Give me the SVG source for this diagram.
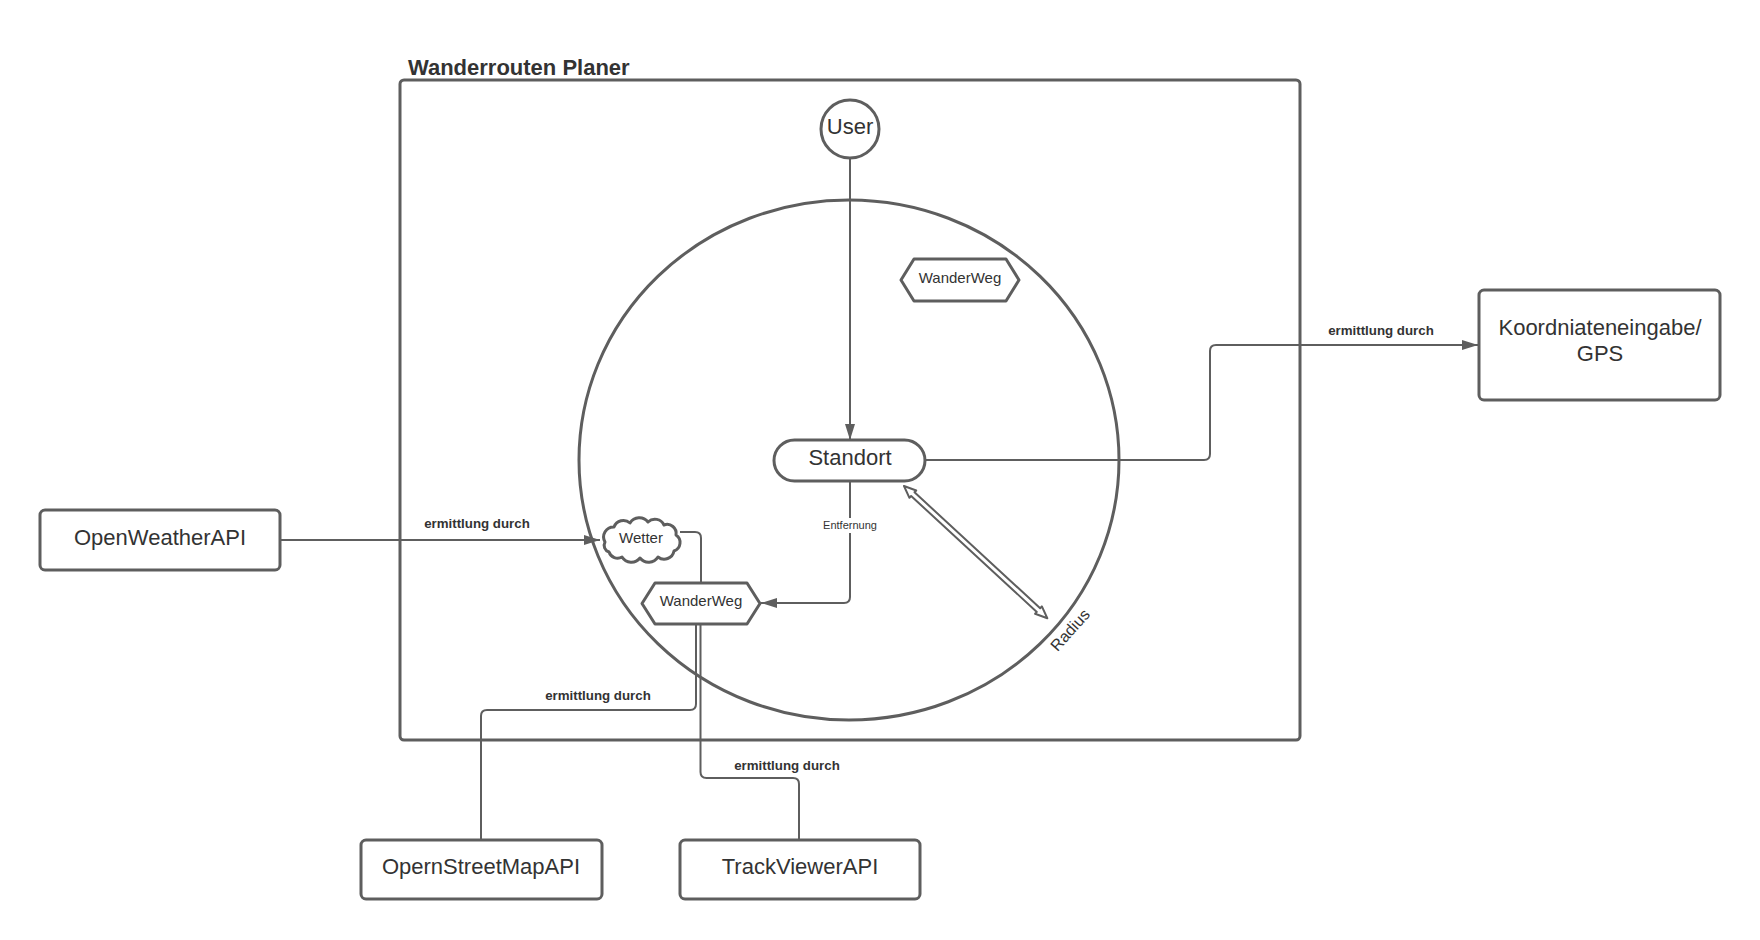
<svg xmlns="http://www.w3.org/2000/svg" width="1760" height="940" viewBox="0 0 1760 940">
  <style>
    .shape { fill: #ffffff; stroke: #5e5e5e; stroke-width: 3; stroke-linejoin: round; }
    .conn { fill: none; stroke: #5e5e5e; stroke-width: 2; }
    .txt { font-family: "Liberation Sans", Arial, sans-serif; fill: #333333; text-anchor: middle; dominant-baseline: central; }
    .big { font-size: 22px; }
    .mid { font-size: 15px; }
    .lbl { font-size: 13.3px; font-weight: bold; }
    .small { font-size: 11px; }
  </style>
  <defs>
    <marker id="arrow" markerUnits="userSpaceOnUse" markerWidth="16" markerHeight="10" refX="16" refY="5" orient="auto">
      <path d="M0,0 L16,5 L0,10 Z" fill="#5e5e5e"/>
    </marker>
  </defs>

  <rect width="1760" height="940" fill="#ffffff"/>

  <!-- System boundary -->
  <g id="container">
    <rect class="shape" x="400" y="80" width="900" height="660" rx="4" style="fill:none"/>
    <text class="txt" x="408" y="75" style="font-size:22px;font-weight:bold;text-anchor:start;dominant-baseline:auto">Wanderrouten Planer</text>
  </g>

  <!-- Search radius area -->
  <g id="area">
    <ellipse class="shape" cx="849" cy="460" rx="270" ry="260" style="fill:none"/>
  </g>

  <!-- Connectors -->
  <g id="connectors">
    <path class="conn" d="M850,158 V440" marker-end="url(#arrow)"/>
    <path class="conn" d="M850,481 V597 Q850,603 844,603 H761" marker-end="url(#arrow)"/>
    <path class="conn" d="M925,460 H1204 Q1210,460 1210,454 V351 Q1210,345 1216,345 H1478" marker-end="url(#arrow)"/>
    <path class="conn" d="M280,540 H600" marker-end="url(#arrow)"/>
    <path class="conn" d="M680,532 H695 Q701,532 701,538 V583"/>
    <path class="conn" d="M696,624 V704 Q696,710 690,710 H487 Q481,710 481,716 V840"/>
    <path class="conn" d="M700.5,624 V772 Q700.5,778 706.5,778 H793 Q799,778 799,784 V840"/>

    <rect x="815" y="518" width="70" height="15" fill="#ffffff"/>
    <text class="txt small" x="850" y="525">Entfernung</text>
    <text class="txt lbl" x="477" y="523">ermittlung durch</text>
    <text class="txt lbl" x="1381" y="330">ermittlung durch</text>
    <text class="txt lbl" x="598" y="695">ermittlung durch</text>
    <text class="txt lbl" x="787" y="765">ermittlung durch</text>

    <!-- Radius double arrow -->
    <g transform="translate(904,486) rotate(42.7)">
      <path d="M0,0 L12,-5 L12,-2.5 L183,-2.5 L183,-5 L195,0 L183,5 L183,2.5 L12,2.5 L12,5 Z" fill="#ffffff" stroke="#5e5e5e" stroke-width="2" stroke-linejoin="round"/>
    </g>
    <text class="txt" style="font-size:16px" x="1070" y="630" transform="rotate(-48 1070 630)">Radius</text>
  </g>

  <g id="user">
    <circle class="shape" cx="850" cy="129" r="29"/>
    <text class="txt big" x="850" y="126">User</text>
  </g>

  <g id="standort">
    <rect class="shape" x="774" y="440" width="151" height="41" rx="20.5"/>
    <text class="txt big" x="850" y="457">Standort</text>
  </g>

  <g id="wanderweg-top">
    <path class="shape" d="M901,280 L914,259 L1006,259 L1019,280 L1006,301 L914,301 Z"/>
    <text class="txt mid" x="960" y="277">WanderWeg</text>
  </g>

  <g id="wanderweg">
    <path class="shape" d="M642,603.5 L655,583 L747,583 L760,603.5 L747,624 L655,624 Z"/>
    <text class="txt mid" x="701" y="600">WanderWeg</text>
  </g>

  <g id="wetter">
    <path class="shape" d="M605,542 A10 10 0 0 1 614,527 A10 10 0 0 1 630,523 A11 11 0 0 1 648,522 A10 10 0 0 1 664,525 A9 9 0 0 1 676,535 A9 9 0 0 1 674,551 A10 10 0 0 1 658,557 A11 11 0 0 1 640,558 A11 11 0 0 1 622,557 A9 9 0 0 1 609,552 A7 7 0 0 1 605,542 Z"/>
    <text class="txt mid" x="641" y="537">Wetter</text>
  </g>

  <g id="openweather">
    <rect class="shape" x="40" y="510" width="240" height="60" rx="5"/>
    <text class="txt big" x="160" y="537">OpenWeatherAPI</text>
  </g>

  <g id="koordinaten">
    <rect class="shape" x="1479" y="290" width="241" height="110" rx="5"/>
    <text class="txt big" x="1600" y="327">Koordniateneingabe/</text>
    <text class="txt big" x="1600" y="353">GPS</text>
  </g>

  <g id="osm">
    <rect class="shape" x="361" y="840" width="241" height="59" rx="5"/>
    <text class="txt big" x="481" y="866">OpernStreetMapAPI</text>
  </g>

  <g id="trackviewer">
    <rect class="shape" x="680" y="840" width="240" height="59" rx="5"/>
    <text class="txt big" x="800" y="866">TrackViewerAPI</text>
  </g>
</svg>
